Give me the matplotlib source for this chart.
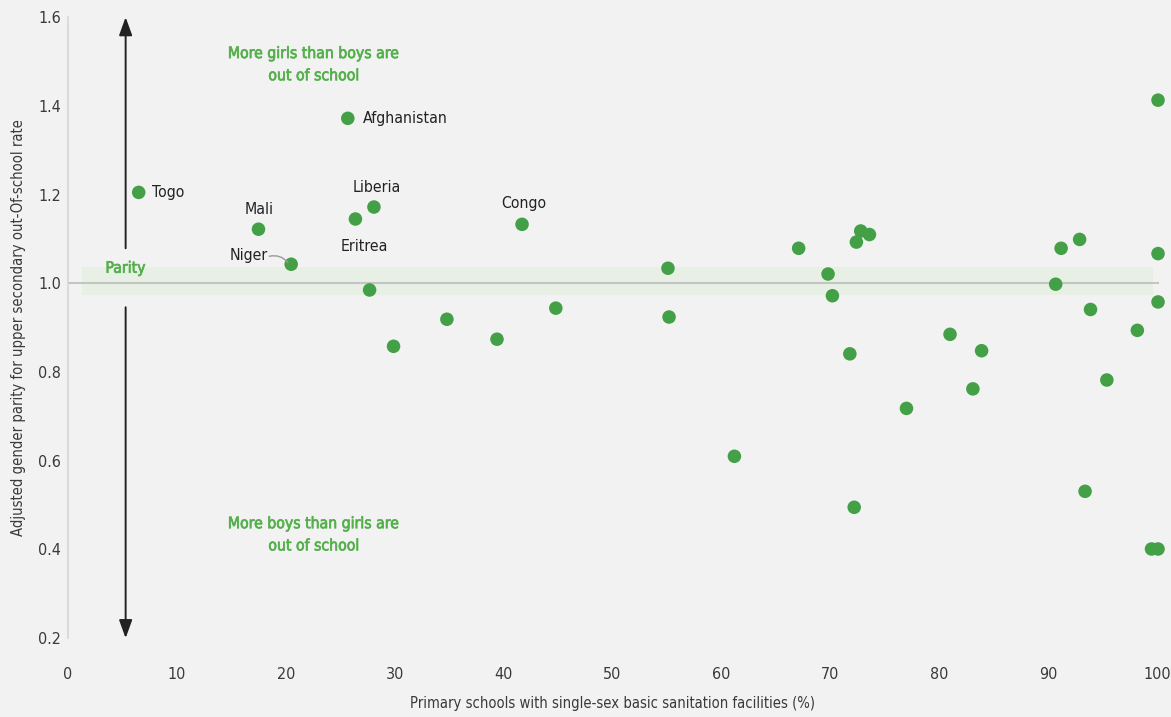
import matplotlib
matplotlib.use("Agg")
import matplotlib.pyplot as plt
import matplotlib.patheffects as pe
from matplotlib import font_manager

# share of primary schools with single-sex sanitation (%) and adjusted gender parity
sanitation = [6.5, 17.5, 20.5, 25.7, 28.1, 26.4, 41.7,
              27.7, 29.9, 34.8, 39.4, 44.8, 55.1, 55.2, 61.2,
              67.1, 69.8, 70.2, 71.8, 72.4, 72.8, 73.6, 72.2,
              77.0, 81.0, 83.1, 83.9, 90.7, 91.2, 92.9, 93.9,
              93.4, 95.4, 98.2, 100.1, 100.1, 99.5, 100.1, 100.1]
parity = [1.205, 1.122, 1.043, 1.372, 1.172, 1.145, 1.133,
          0.985, 0.858, 0.919, 0.874, 0.944, 1.034, 0.924, 0.610,
          1.079, 1.021, 0.972, 0.841, 1.093, 1.118, 1.110, 0.495,
          0.718, 0.885, 0.762, 0.848, 0.998, 1.079, 1.099, 0.941,
          0.531, 0.782, 0.894, 1.067, 0.958, 0.401, 0.401, 1.413]

labels = {"Togo": 0, "Mali": 1, "Niger": 2, "Afghanistan": 3,
          "Liberia": 4, "Eritrea": 5, "Congo": 6}

x_ticks = [0, 10, 20, 30, 40, 50, 60, 70, 80, 90, 100]
y_ticks = [0.2, 0.4, 0.6, 0.8, 1.0, 1.2, 1.4, 1.6]

# the original uses a condensed face; take one if the system has it
condensed = [f for f in font_manager.fontManager.ttflist
             if "condensed" in str(f.stretch).lower() or "Condensed" in f.fname]
if condensed:
    plt.rcParams["font.family"] = [condensed[0].name, "DejaVu Sans"]
    plt.rcParams["font.stretch"] = "condensed"
    SCALE = 1.0
else:
    plt.rcParams["font.family"] = ["Roboto", "DejaVu Sans"]
    SCALE = 0.85

BG = "#f2f2f2"
DOT = "#43a047"
TXT_GREEN = "#55b04c"
GREY_TXT = "#3a3a3a"

fig = plt.figure(figsize=(11.71, 7.17), dpi=100, facecolor=BG)
ax = fig.add_axes([0.058, 0.110, 0.930, 0.866], facecolor=BG)
ax.set_xlim(0, 100)
ax.set_ylim(0.2, 1.6)

for side in ["top", "right", "bottom"]:
    ax.spines[side].set_visible(False)
ax.spines["left"].set_color("#d6d6d6")
ax.spines["left"].set_linewidth(1.2)

ax.set_xticks(x_ticks)
ax.set_yticks(y_ticks)
ax.set_yticklabels([f"{v:.1f}" for v in y_ticks])
ax.tick_params(axis="both", length=0, labelsize=11.5 * SCALE, colors=GREY_TXT)
ax.tick_params(axis="x", pad=21)
ax.tick_params(axis="y", pad=5)

# parity band and line
ax.fill_between([1.3, 99.6], 0.973, 1.036, color="#e8f0e6", zorder=0, lw=0)
ax.plot([0.1, 100.1], [1.0, 1.0], color="#c4c4c4", lw=1.5, zorder=1, clip_on=False)

# direction arrows
ax.annotate("", xy=(5.3, 1.6), xytext=(5.3, 1.079),
            arrowprops=dict(arrowstyle="-|>,head_width=0.4,head_length=1.1",
                            color="#222222", lw=1.4, shrinkA=0, shrinkB=0))
ax.annotate("", xy=(5.3, 0.2), xytext=(5.3, 0.946),
            arrowprops=dict(arrowstyle="-|>,head_width=0.4,head_length=1.1",
                            color="#222222", lw=1.4, shrinkA=0, shrinkB=0))

ax.scatter(sanitation, parity, s=95, color=DOT, edgecolors="none", zorder=3, clip_on=False)

# country labels
fs = 11.3 * SCALE
lab_kw = dict(fontsize=fs, color="#222222", zorder=4, va="center")
i = labels["Togo"]
ax.text(sanitation[i] + 1.2, parity[i], "Togo", ha="left", **lab_kw)
i = labels["Afghanistan"]
ax.text(sanitation[i] + 1.4, parity[i], "Afghanistan", ha="left", **lab_kw)
i = labels["Mali"]
ax.text(sanitation[i] + 0.1, parity[i] + 0.045, "Mali", ha="center", **lab_kw)
i = labels["Liberia"]
ax.text(sanitation[i] + 0.3, parity[i] + 0.045, "Liberia", ha="center", **lab_kw)
i = labels["Congo"]
ax.text(sanitation[i] + 0.2, parity[i] + 0.047, "Congo", ha="center", **lab_kw)
i = labels["Eritrea"]
ax.text(sanitation[i] + 0.8, parity[i] - 0.061, "Eritrea", ha="center", **lab_kw)
i = labels["Niger"]
ax.text(sanitation[i] - 2.1, parity[i] + 0.02, "Niger", ha="right", **lab_kw)
ax.annotate("", xy=(sanitation[i] - 0.3, parity[i] + 0.004),
            xytext=(sanitation[i] - 2.0, parity[i] + 0.018),
            arrowprops=dict(arrowstyle="-", color="#9a9a9a", lw=1,
                            connectionstyle="arc3,rad=-0.3", shrinkA=0, shrinkB=0))

# annotations, normal weight thickened a little so the width stays narrow
bold = [pe.withStroke(linewidth=0.5, foreground=TXT_GREEN)]
note_kw = dict(ha="center", va="center", fontsize=fs, color=TXT_GREEN,
               linespacing=1.6, path_effects=bold)
ax.text(22.6, 1.493, "More girls than boys are\nout of school", **note_kw)
ax.text(22.6, 0.433, "More boys than girls are\nout of school", **note_kw)
ax.text(5.3, 1.034, "Parity", ha="center", va="center", fontsize=fs,
        color=TXT_GREEN, path_effects=bold)

ax.set_xlabel("Primary schools with single-sex basic sanitation facilities (%)",
              fontsize=10.6 * SCALE, color=GREY_TXT, labelpad=10)
ax.set_ylabel("Adjusted gender parity for upper secondary out-Of-school rate",
              fontsize=10.6 * SCALE, color=GREY_TXT, labelpad=9)

fig.savefig("out.png", dpi=100, facecolor=BG)
